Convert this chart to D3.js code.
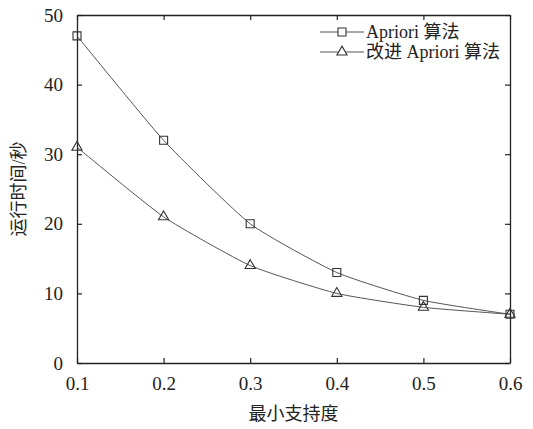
<!DOCTYPE html>
<html>
<head>
<meta charset="utf-8">
<script src="https://cdn.jsdelivr.net/npm/d3@7"></script>
<style>
  body { margin: 0; background: #fff; }
</style>
</head>
<body>
<div id="chart"></div>
<script>
// data
const support = [0.1, 0.2, 0.3, 0.4, 0.5, 0.6];
const apriori = [47, 32, 20, 13, 9, 7];
const improved = [31, 21, 14, 10, 8, 7];
const xTicks = [0.1, 0.2, 0.3, 0.4, 0.5, 0.6];
const yTicks = [0, 10, 20, 30, 40, 50];
const seriesNames = ["Apriori 算法", "改进 Apriori 算法"];

const FONT = "'Liberation Serif', 'DejaVu Serif', 'Noto Sans CJK SC', serif";

const W = 533, H = 429;
const margin = { top: 15, right: 23, bottom: 66, left: 77 };
const width = W - margin.left - margin.right,
    height = H - margin.top - margin.bottom;

const svg = d3.select("#chart").append("svg")
    .attr("width", W)
    .attr("height", H);

const g = svg.append("g")
    .attr("transform", `translate(${margin.left},${margin.top})`);

const x = d3.scaleLinear().domain([0.1, 0.6]).range([0, width]);
const y = d3.scaleLinear().domain([0, 50]).range([height, 0]);

// ticks pointing inward on all four sides
const tickLen = 5;
g.append("g")
    .attr("transform", `translate(0,${height})`)
    .call(d3.axisBottom(x).tickValues(xTicks).tickSizeInner(-tickLen).tickSizeOuter(0).tickPadding(14).tickFormat(d3.format(".1f")));
g.append("g")
    .call(d3.axisTop(x).tickValues(xTicks).tickSizeInner(-tickLen).tickSizeOuter(0).tickFormat(""));
g.append("g")
    .call(d3.axisLeft(y).tickValues(yTicks).tickSizeInner(-tickLen).tickSizeOuter(0).tickPadding(14));
g.append("g")
    .attr("transform", `translate(${width},0)`)
    .call(d3.axisRight(y).tickValues(yTicks).tickSizeInner(-tickLen).tickSizeOuter(0).tickFormat(""));

g.selectAll(".tick text")
    .style("font-family", FONT)
    .style("font-size", "19px")
    .style("fill", "#222");
g.selectAll(".domain").attr("stroke", "#222").attr("stroke-width", 1.3);
g.selectAll(".tick line").attr("stroke", "#222").attr("stroke-width", 1.2);

// lightly smoothed lines, like the original
const line = d3.line()
    .x((d, i) => x(support[i]))
    .y(d => y(d))
    .curve(d3.curveCardinal.tension(0.5));

const stroke = "#555";
const square = d3.symbol().type(d3.symbolSquare).size(64);
const triangle = d3.symbol().type(d3.symbolTriangle).size(45);

[[apriori, square], [improved, triangle]].forEach(([vals, sym]) => {
    g.append("path")
        .datum(vals)
        .attr("d", line)
        .attr("fill", "none")
        .attr("stroke", stroke)
        .attr("stroke-width", 1);
    g.selectAll(null)
        .data(vals)
        .enter()
        .append("path")
        .attr("d", sym)
        .attr("transform", (d, i) => `translate(${x(support[i])},${y(d)})`)
        .attr("fill", "none")
        .attr("stroke", "#333")
        .attr("stroke-width", 1.1);
});

// legend
const legend = g.append("g").attr("transform", "translate(243,17)");
[square, triangle].forEach((sym, i) => {
    const row = legend.append("g").attr("transform", `translate(0,${i * 20})`);
    row.append("line")
        .attr("x1", 0).attr("x2", 44)
        .attr("stroke", stroke).attr("stroke-width", 1);
    row.append("path")
        .attr("d", sym)
        .attr("transform", "translate(22,0)")
        .attr("fill", "#fff")
        .attr("stroke", "#333")
        .attr("stroke-width", 1.1);
    row.append("text")
        .attr("x", 46)
        .attr("dy", "0.35em")
        .style("font-family", FONT)
        .style("font-size", "18px")
        .style("fill", "#222")
        .text(seriesNames[i]);
});

// axis titles
svg.append("text")
    .attr("x", margin.left + width / 2)
    .attr("y", 420)
    .attr("text-anchor", "middle")
    .style("font-family", FONT)
    .style("font-size", "18px")
    .style("fill", "#222")
    .text("最小支持度");

svg.append("text")
    .attr("transform", `translate(25,${margin.top + height / 2}) rotate(-90)`)
    .attr("text-anchor", "middle")
    .style("font-family", FONT)
    .style("font-size", "18px")
    .style("fill", "#222")
    .text("运行时间/秒");
</script>
</body>
</html>
